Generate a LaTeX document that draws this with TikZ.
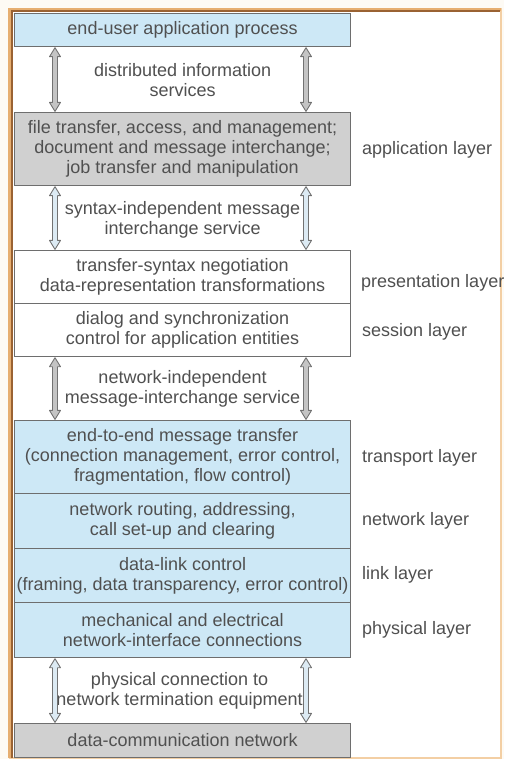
\documentclass[tikz,border=0pt]{standalone}
\usepackage{fontspec}
\setmainfont{Liberation Sans}
\usetikzlibrary{calc}
\definecolor{txt}{HTML}{505050}
\definecolor{lblue}{HTML}{CDE8F6}
\definecolor{lgray}{HTML}{D0D0D0}
\definecolor{edge}{HTML}{6E6E6E}
\definecolor{frameor}{HTML}{E6AE70}
\definecolor{framelt}{HTML}{F3CFA4}
\definecolor{framedk}{HTML}{9A6232}
\definecolor{bgc}{HTML}{FDFAF4}
\definecolor{arrg}{HTML}{C4C4C4}
\definecolor{arrb}{HTML}{DCEAF3}
\definecolor{arrd}{HTML}{727272}
\newcommand\hollowarrow[3]{%
  \filldraw[arr,fill=#3] (#1) -- ($(#1)+(5.5,9)$) -- ($(#1)+(2.5,9)$) -- ($(#2)+(2.5,-9)$)
    -- ($(#2)+(5.5,-9)$) -- (#2) -- ($(#2)+(-5.5,-9)$) -- ($(#2)+(-2.5,-9)$)
    -- ($(#1)+(-2.5,9)$) -- ($(#1)+(-5.5,9)$) -- cycle;}
\begin{document}
\begin{tikzpicture}[x=1pt,y=-1pt,
  every node/.style={text=txt,font=\fontsize{18}{20}\selectfont},
  box/.style={draw=edge,line width=1.1pt,minimum width=336pt,inner sep=0pt,
    align=center,anchor=north west},
  gap/.style={align=center,inner sep=0pt},
  lab/.style={anchor=west,inner sep=0pt},
  arr/.style={draw=arrd,line width=0.9pt,line join=round}]
\useasboundingbox (0,0) rectangle (504,759);
\fill[bgc] (0,0) rectangle (504,759);
\fill[white] (12,12) rectangle (500,757);
\draw[framelt,line width=2pt] (9.5,9.5) rectangle (500.5,757.5);
\draw[frameor,line width=3pt] (9.5,758) -- (9.5,9.5) -- (501,9.5);
\draw[framedk,line width=2pt] (12,758) -- (12,11.5) -- (500,11.5);

% layer boxes
\node[box,fill=lblue,minimum height=33pt] (eu) at (14,13) {end-user application process};
\node[box,fill=lgray,minimum height=73pt] (app) at (14,112) {file transfer, access, and management;\\document and message interchange;\\job transfer and manipulation};
\node[box,fill=white,minimum height=53pt] (pres) at (14,250) {transfer-syntax negotiation\\data-representation transformations};
\node[box,fill=white,minimum height=53pt] (sess) at (14,303) {dialog and synchronization\\control for application entities};
\node[box,fill=lblue,minimum height=73pt] (trans) at (14,420) {end-to-end message transfer\\(connection management, error control,\\fragmentation, flow control)};
\node[box,fill=lblue,minimum height=55pt] (net) at (14,493) {network routing, addressing,\\call set-up and clearing};
\node[box,fill=lblue,minimum height=54pt] (link) at (14,548) {data-link control\\(framing, data transparency, error control)};
\node[box,fill=lblue,minimum height=55pt] (phys) at (14,602) {mechanical and electrical\\network-interface connections};
\node[box,fill=lgray,minimum height=34pt] (dcn) at (14,723) {data-communication network};

% service labels
\node[gap] (g1) at ($(eu.south)!0.5!(app.north)+(0,1)$) {distributed information\\services};
\node[gap] (g2) at ($(app.south)!0.5!(pres.north)+(0,2)$) {syntax-independent message\\interchange service};
\node[gap] (g3) at ($(sess.south)!0.5!(trans.north)$) {network-independent\\message-interchange service};
\node[gap] (g4) at ($(phys.south)!0.5!(dcn.north)+(-3,0)$) {physical connection to\\network termination equipment};

% layer names
\node[lab] (lapp) at (362,150) {application layer};
\node[lab] (lpres) at (361,283) {presentation layer};
\node[lab] (lsess) at (362,332) {session layer};
\node[lab] (ltrans) at (362,458) {transport layer};
\node[lab] (lnet) at (362,521) {network layer};
\node[lab] (llink) at (362,575) {link layer};
\node[lab] (lphys) at (362,630) {physical layer};

% double-headed hollow arrows
\foreach \up/\dn/\k/\f in {eu/app/1/arrg, app/pres/2/arrb, sess/trans/3/arrg, phys/dcn/4/arrb}{
  \coordinate (l\k t) at ($(\up.south west)+(41,0.6)$);
  \coordinate (l\k b) at ($(\dn.north west)+(41,-0.6)$);
  \coordinate (r\k t) at ($(\up.south west)+(292,0.6)$);
  \coordinate (r\k b) at ($(\dn.north west)+(292,-0.6)$);
  \hollowarrow{l\k t}{l\k b}{\f}
  \hollowarrow{r\k t}{r\k b}{\f}
}
\end{tikzpicture}
\end{document}
